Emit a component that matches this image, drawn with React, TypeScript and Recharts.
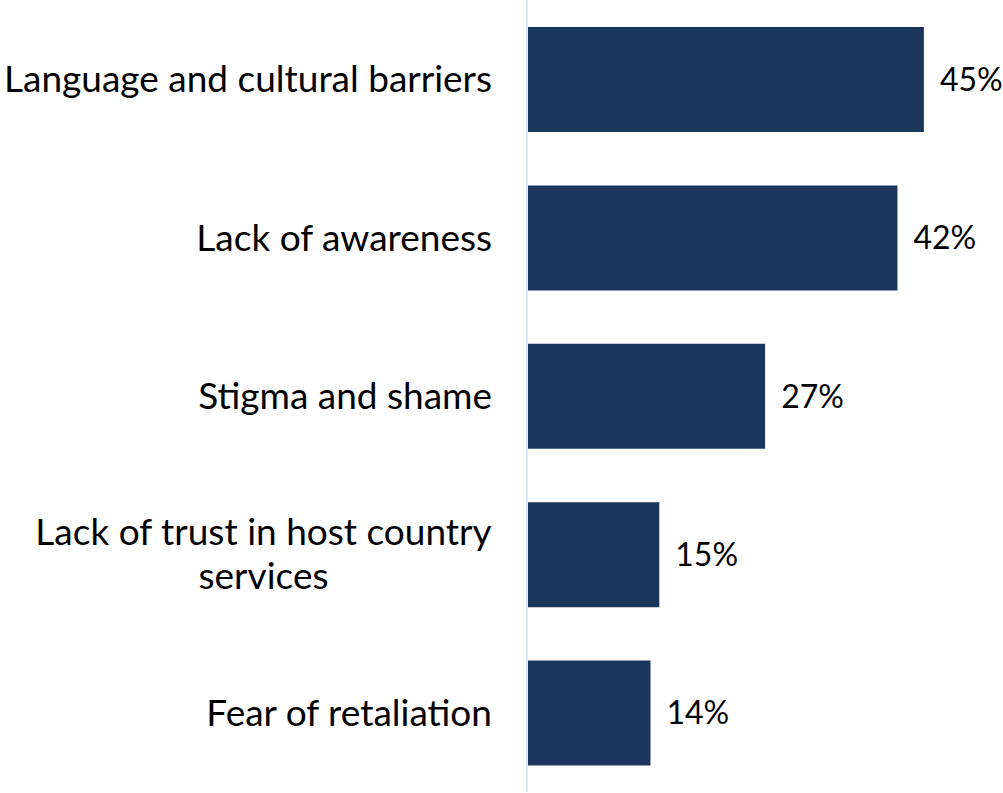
import React from "react";
import { BarChart, Bar, XAxis, YAxis, LabelList } from "recharts";

const categories = [
  "Language and cultural barriers",
  "Lack of awareness",
  "Stigma and shame",
  "Lack of trust in host country services",
  "Fear of retaliation",
];
const tickLines = [
  ["Language and cultural barriers"],
  ["Lack of awareness"],
  ["Stigma and shame"],
  ["Lack of trust in host country", "services"],
  ["Fear of retaliation"],
];
const values = [45, 42, 27, 15, 14];

const data = categories.map((name, i) => ({ name, value: values[i] }));

const FONT = "Lato, 'Noto Sans', sans-serif";
const FONT_SIZE = 37;

let canvas: HTMLCanvasElement | null = null;
const measure = (text: string) => {
  if (!canvas) canvas = document.createElement("canvas");
  const ctx = canvas.getContext("2d")!;
  ctx.font = `${FONT_SIZE}px Lato`;
  return ctx.measureText(text).width;
};

const CategoryTick = (props: any) => {
  const { x, y, payload } = props;
  const idx = categories.indexOf(payload.value);
  const lines = tickLines[idx] || [payload.value];
  if (lines.length === 1) {
    return (
      <text x={x} y={y} dy={13} textAnchor="end" fontFamily={FONT} fontSize={FONT_SIZE} fill="#000">
        {lines[0]}
      </text>
    );
  }
  const widest = Math.max(...lines.map(measure));
  const cx = x - widest / 2;
  const lh = 44;
  const start = y + 13 - ((lines.length - 1) * lh) / 2;
  return (
    <text textAnchor="middle" fontFamily={FONT} fontSize={FONT_SIZE} fill="#000">
      {lines.map((l: string, i: number) => (
        <tspan key={i} x={cx} y={start + i * lh}>
          {l}
        </tspan>
      ))}
    </text>
  );
};

export default function App() {
  return (
    <div style={{ position: "absolute", left: 0, top: 0, background: "#fff" }}>
      <BarChart
        width={1003}
        height={793}
        data={data}
        layout="vertical"
        margin={{ top: 0, right: 35, bottom: 1, left: 0 }}
      >
        <XAxis type="number" domain={[0, 50]} hide />
        <YAxis
          type="category"
          dataKey="name"
          width={527}
          axisLine={{ stroke: "#d6e8f7", strokeWidth: 2 }}
          tickLine={false}
          tick={<CategoryTick />}
          tickMargin={29}
          interval={0}
        />
        <Bar dataKey="value" fill="#1b365d" barSize={105} isAnimationActive={false}>
          <LabelList
            dataKey="value"
            position="right"
            offset={16}
            formatter={(v: any) => `${v}%`}
            style={{ fontFamily: FONT, fontSize: 32, fill: "#000" }}
          />
        </Bar>
      </BarChart>
    </div>
  );
}
